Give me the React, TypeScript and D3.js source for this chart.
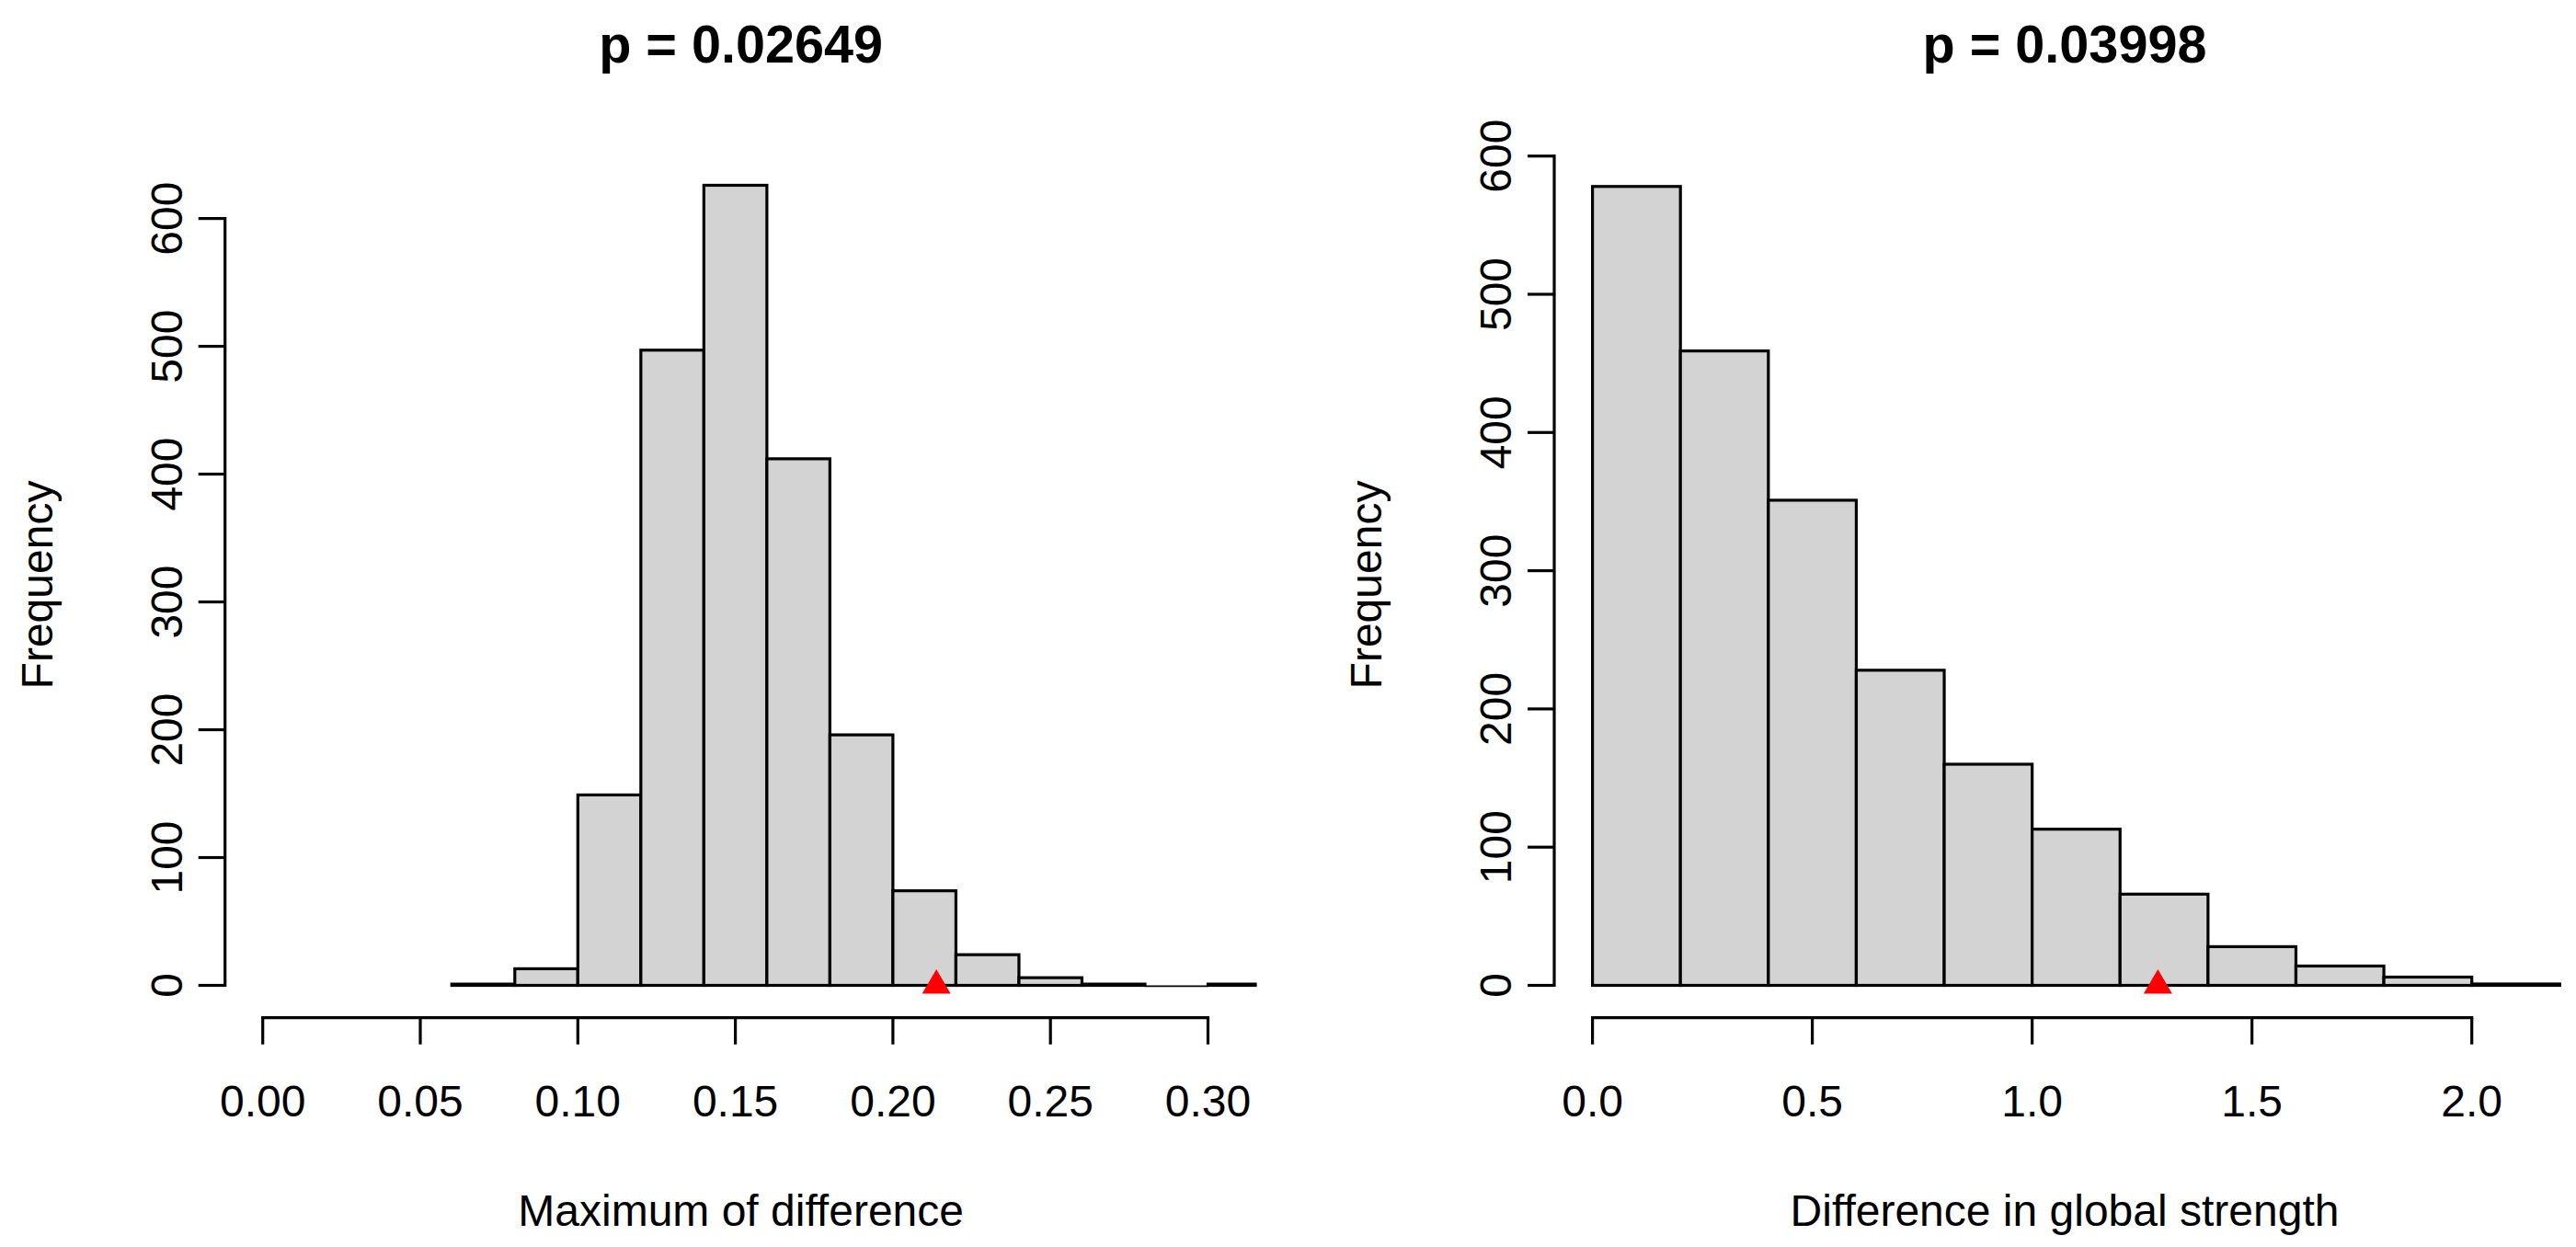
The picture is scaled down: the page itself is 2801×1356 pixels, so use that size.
import React from "react";
import * as d3 from "d3";

// ---- Data ----
const leftBreaks = [0.06, 0.08, 0.1, 0.12, 0.14, 0.16, 0.18, 0.2, 0.22, 0.24, 0.26, 0.28, 0.3, 0.32];
const leftCounts = [1, 13, 149, 497, 626, 412, 196, 74, 24, 6, 1, 0, 1];
const leftObserved = 0.2138;
const leftTitle = "p = 0.02649";
const leftXLabel = "Maximum of difference";
const leftXTicks = [0, 0.05, 0.1, 0.15, 0.2, 0.25, 0.3];
const leftXTickLabels = ["0.00", "0.05", "0.10", "0.15", "0.20", "0.25", "0.30"];

const rightBreaks = [0, 0.2, 0.4, 0.6, 0.8, 1.0, 1.2, 1.4, 1.6, 1.8, 2.0, 2.2];
const rightCounts = [578, 459, 351, 228, 160, 113, 66, 28, 14, 6, 1];
const rightObserved = 1.286;
const rightTitle = "p = 0.03998";
const rightXLabel = "Difference in global strength";
const rightXTicks = [0, 0.5, 1.0, 1.5, 2.0];
const rightXTickLabels = ["0.0", "0.5", "1.0", "1.5", "2.0"];

const yTicks = [0, 100, 200, 300, 400, 500, 600];
const yLabel = "Frequency";

const FONT = "'Liberation Sans', Arial, Helvetica, sans-serif";

type PanelProps = {
  id: string;
  breaks: number[];
  counts: number[];
  observed: number;
  title: string;
  xLabel: string;
  xTicks: number[];
  xTickLabels: string[];
  xDomain: [number, number];
  xRange: [number, number];
  yTop: number;
  plotLeft: number;
  plotRight: number;
};

const baseY = 1071.5;
const xAxisY = 1106.7;
const tickLen = 29;
const SW = 3.2;

function Panel(p: PanelProps) {
  const x = d3.scaleLinear().domain(p.xDomain).range(p.xRange);
  const y = d3.scaleLinear().domain([0, 600]).range([baseY, p.yTop]);
  const cx = (p.plotLeft + p.plotRight) / 2;
  const bins = p.counts.map((c, i) => ({ x0: p.breaks[i], x1: p.breaks[i + 1], c }));
  const tx = x(p.observed);
  const tri = `M${tx},${baseY - 17.5} L${tx + 15.5},${baseY + 9} L${tx - 15.5},${baseY + 9} Z`;
  const yTickLabelX = p.plotLeft - 64;
  const yLabelX = p.plotLeft - 205;
  const yMid = 636;
  return (
    <g>
      <defs>
        <clipPath id={p.id}>
          <rect x={p.plotLeft} y={0} width={p.plotRight - p.plotLeft} height={xAxisY + 2} />
        </clipPath>
      </defs>
      <g clipPath={`url(#${p.id})`}>
        {bins.map((b, i) =>
          b.c > 0 ? (
            <rect
              key={i}
              x={x(b.x0)}
              y={y(b.c)}
              width={x(b.x1) - x(b.x0)}
              height={baseY - y(b.c)}
              fill="#D3D3D3"
              stroke="#000"
              strokeWidth={SW}
            />
          ) : (
            <line
              key={i}
              x1={x(b.x0)}
              x2={x(b.x1)}
              y1={baseY + 0.8}
              y2={baseY + 0.8}
              stroke="#000"
              strokeWidth={1.8}
            />
          )
        )}
      </g>
      <path d={tri} fill="#FF0000" />
      {/* y axis */}
      <line x1={p.plotLeft} x2={p.plotLeft} y1={y(0)} y2={y(600)} stroke="#000" strokeWidth={SW} strokeLinecap="square" />
      {yTicks.map((t) => (
        <g key={t}>
          <line x1={p.plotLeft - tickLen} x2={p.plotLeft} y1={y(t)} y2={y(t)} stroke="#000" strokeWidth={SW} />
          <text
            transform={`translate(${yTickLabelX},${y(t)}) rotate(-90)`}
            textAnchor="middle"
            dy="0.36em"
            fontSize={48}
            fontFamily={FONT}
          >
            {t}
          </text>
        </g>
      ))}
      {/* x axis */}
      <line x1={x(p.xTicks[0])} x2={x(p.xTicks[p.xTicks.length - 1])} y1={xAxisY} y2={xAxisY} stroke="#000" strokeWidth={SW} strokeLinecap="square" />
      {p.xTicks.map((t, i) => (
        <g key={t}>
          <line x1={x(t)} x2={x(t)} y1={xAxisY} y2={xAxisY + tickLen} stroke="#000" strokeWidth={SW} />
          <text x={x(t)} y={1214} textAnchor="middle" fontSize={48} fontFamily={FONT}>
            {p.xTickLabels[i]}
          </text>
        </g>
      ))}
      <text x={cx} y={1332.5} textAnchor="middle" fontSize={48} fontFamily={FONT}>
        {p.xLabel}
      </text>
      <text
        transform={`translate(${yLabelX},${yMid}) rotate(-90)`}
        textAnchor="middle"
        dy="0.36em"
        fontSize={48}
        fontFamily={FONT}
      >
        {yLabel}
      </text>
      <text x={cx} y={68} textAnchor="middle" fontSize={57.6} fontWeight="bold" fontFamily={FONT}>
        {p.title}
      </text>
    </g>
  );
}

export default function App() {
  return (
    <div style={{ position: "absolute", left: 0, top: 0, background: "#fff" }}>
      <svg width={2801} height={1356} viewBox="0 0 2801 1356" style={{ display: "block" }}>
        <rect x={0} y={0} width={2801} height={1356} fill="#fff" />
        <Panel
          id="clipL"
          breaks={leftBreaks}
          counts={leftCounts}
          observed={leftObserved}
          title={leftTitle}
          xLabel={leftXLabel}
          xTicks={leftXTicks}
          xTickLabels={leftXTickLabels}
          xDomain={[0, 0.3]}
          xRange={[285.7, 1313.5]}
          yTop={237.6}
          plotLeft={244.7}
          plotRight={1366.6}
        />
        <Panel
          id="clipR"
          breaks={rightBreaks}
          counts={rightCounts}
          observed={rightObserved}
          title={rightTitle}
          xLabel={rightXLabel}
          xTicks={rightXTicks}
          xTickLabels={rightXTickLabels}
          xDomain={[0, 2]}
          xRange={[1731.6, 2687.7]}
          yTop={169.7}
          plotLeft={1690}
          plotRight={2800}
        />
      </svg>
    </div>
  );
}
